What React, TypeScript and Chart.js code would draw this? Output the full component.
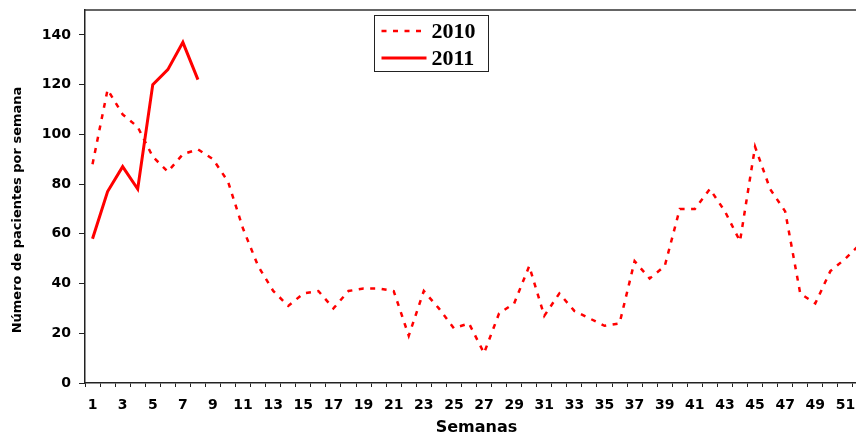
import React, { useEffect, useRef } from "react";
import { Chart, registerables } from "chart.js";

Chart.register(...registerables);

const weeks = [
  "1", "2", "3", "4", "5", "6", "7", "8", "9", "10", "11", "12", "13",
  "14", "15", "16", "17", "18", "19", "20", "21", "22", "23", "24", "25", "26",
  "27", "28", "29", "30", "31", "32", "33", "34", "35", "36", "37", "38", "39",
  "40", "41", "42", "43", "44", "45", "46", "47", "48", "49", "50", "51", "52",
];

const patients2010 = [
  88, 118, 108, 103, 91, 85, 92, 94, 90, 81, 62, 47, 37,
  31, 36, 37, 30, 37, 38, 38, 37, 19, 37, 30, 22, 24,
  12, 28, 32, 47, 27, 36, 29, 26, 23, 24, 49, 42, 47,
  70, 70, 78, 69, 57, 95, 78, 69, 36, 32, 45, 50, 56,
];

const patients2011 = [58, 77, 87, 78, 120, 126, 137, 122];

const yTickValues = [0, 20, 40, 60, 80, 100, 120, 140];

const seriesLabels = ["2010", "2011"];

const yAxisTitle = "Número de pacientes por semana";

const frameAndLegend = {
  id: "frameAndLegend",
  afterDraw(chart: any) {
    const { ctx, chartArea } = chart;
    ctx.save();
    // top & right frame of plot area
    ctx.strokeStyle = "#333";
    ctx.lineWidth = 1.5;
    ctx.beginPath();
    ctx.moveTo(chartArea.left, chartArea.top);
    ctx.lineTo(chartArea.right, chartArea.top);
    ctx.lineTo(chartArea.right, chartArea.bottom);
    ctx.stroke();

    // y axis title (rotated)
    ctx.save();
    ctx.translate(18, 210);
    ctx.rotate(-Math.PI / 2);
    ctx.fillStyle = "#000";
    ctx.font = 'bold 13px "DejaVu Sans"';
    ctx.textAlign = "center";
    ctx.textBaseline = "middle";
    ctx.fillText(yAxisTitle, 0, 0);
    ctx.restore();

    // boxed legend
    const bx = 374.5;
    const by = 15.5;
    const bw = 114;
    const bh = 56;
    ctx.fillStyle = "#fff";
    ctx.fillRect(bx, by, bw, bh);
    ctx.strokeStyle = "#222";
    ctx.lineWidth = 1;
    ctx.strokeRect(bx, by, bw, bh);
    chart.data.datasets.forEach((ds: any, i: number) => {
      const cy = by + 15.5 + i * 27;
      ctx.beginPath();
      ctx.setLineDash(ds.borderDash || []);
      ctx.strokeStyle = ds.borderColor;
      ctx.lineWidth = ds.borderWidth;
      ctx.moveTo(bx + 7, cy);
      ctx.lineTo(bx + 52, cy);
      ctx.stroke();
      ctx.setLineDash([]);
      ctx.fillStyle = "#000";
      ctx.font = 'bold 22px "Liberation Serif"';
      ctx.textBaseline = "middle";
      ctx.textAlign = "left";
      ctx.fillText(ds.label, bx + 57, cy + 1);
    });
    ctx.restore();
  },
};

export default function App() {
  const canvasRef = useRef<HTMLCanvasElement | null>(null);

  useEffect(() => {
    const canvas = canvasRef.current;
    if (!canvas) return;
    const chart = new Chart(canvas, {
      type: "line",
      data: {
        labels: weeks,
        datasets: [
          {
            label: seriesLabels[0],
            data: patients2010,
            borderColor: "#ff0000",
            borderWidth: 2.5,
            borderDash: [5, 6.5],
            pointRadius: 0,
            tension: 0,
            fill: false,
          },
          {
            label: seriesLabels[1],
            data: patients2011,
            borderColor: "#ff0000",
            borderWidth: 3,
            pointRadius: 0,
            tension: 0,
            fill: false,
          },
        ],
      },
      options: {
        animation: false,
        responsive: false,
        devicePixelRatio: 1,
        layout: { padding: { top: 10, right: 12, left: 0, bottom: 0 } },
        plugins: {
          legend: { display: false },
          tooltip: { enabled: false },
          title: { display: false },
        },
        scales: {
          x: {
            type: "category",
            offset: true,
            afterFit: (scale: any) => {
              scale.height = 54;
              scale.paddingLeft = 0;
              scale.paddingRight = 0;
            },
            grid: {
              offset: true,
              drawOnChartArea: false,
              drawTicks: true,
              tickLength: 4,
              color: "#222",
            },
            border: { display: true, color: "#222", width: 1.5 },
            ticks: {
              autoSkip: false,
              maxRotation: 0,
              minRotation: 0,
              padding: 10,
              color: "#000",
              font: { family: '"DejaVu Sans"', size: 14, weight: "bold" },
              callback: (_v: any, idx: number) => (idx % 2 === 0 ? weeks[idx] : ""),
            },
            title: {
              display: true,
              text: "Semanas",
              color: "#000",
              font: { family: '"DejaVu Sans"', size: 16, weight: "bold" },
              padding: { top: 0, bottom: 0 },
            },
          },
          y: {
            min: 0,
            max: 150,
            afterFit: (scale: any) => {
              scale.width = 85;
              scale.paddingTop = 0;
              scale.paddingBottom = 0;
            },
            afterBuildTicks: (scale: any) => {
              scale.ticks = yTickValues.map((v) => ({ value: v }));
            },
            grid: {
              drawOnChartArea: false,
              drawTicks: true,
              tickLength: 6,
              color: "#222",
            },
            border: { display: true, color: "#222", width: 1.5 },
            ticks: {
              padding: 8,
              color: "#000",
              font: { family: '"DejaVu Sans"', size: 14, weight: "bold" },
            },
            title: { display: false },
          },
        },
      },
      plugins: [frameAndLegend],
    });
    return () => chart.destroy();
  }, []);

  return (
    <div
      style={{
        position: "fixed",
        left: 0,
        top: 0,
        width: 856,
        height: 437,
        overflow: "hidden",
        background: "#fff",
      }}
    >
      <canvas ref={canvasRef} width={880} height={437} style={{ display: "block" }} />
    </div>
  );
}
